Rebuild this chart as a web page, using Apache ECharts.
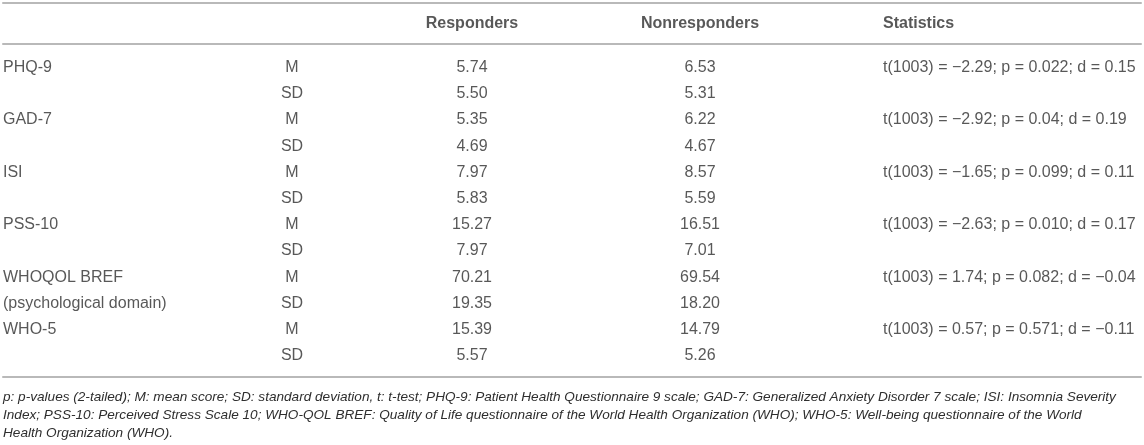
<!DOCTYPE html>
<html>
<head>
<meta charset="utf-8">
<script src="https://cdn.jsdelivr.net/npm/echarts@6/dist/echarts.min.js"></script>
<style>
html, body { margin: 0; padding: 0; background: #fff; }
#chart { width: 1144px; height: 445px; }
</style>
</head>
<body>
<div id="chart"></div>
<script>
var measures = ['PHQ-9', '', 'GAD-7', '', 'ISI', '', 'PSS-10', '', 'WHOQOL BREF', '(psychological domain)', 'WHO-5', ''];
var scoreTypes = ['M', 'SD', 'M', 'SD', 'M', 'SD', 'M', 'SD', 'M', 'SD', 'M', 'SD'];
var responders = [5.74, 5.50, 5.35, 4.69, 7.97, 5.83, 15.27, 7.97, 70.21, 19.35, 15.39, 5.57];
var nonresponders = [6.53, 5.31, 6.22, 4.67, 8.57, 5.59, 16.51, 7.01, 69.54, 18.20, 14.79, 5.26];
var statistics = [
    't(1003) = \u22122.29; p = 0.022; d = 0.15', '',
    't(1003) = \u22122.92; p = 0.04; d = 0.19', '',
    't(1003) = \u22121.65; p = 0.099; d = 0.11', '',
    't(1003) = \u22122.63; p = 0.010; d = 0.17', '',
    't(1003) = 1.74; p = 0.082; d = \u22120.04', '',
    't(1003) = 0.57; p = 0.571; d = \u22120.11', ''
];
var headers = ['', '', 'Responders', 'Nonresponders', 'Statistics'];
var footnote = [
    'p: p-values (2-tailed); M: mean score; SD: standard deviation, t: t-test; PHQ-9: Patient Health Questionnaire 9 scale; GAD-7: Generalized Anxiety Disorder 7 scale; ISI: Insomnia Severity',
    'Index; PSS-10: Perceived Stress Scale 10; WHO-QOL BREF: Quality of Life questionnaire of the World Health Organization (WHO); WHO-5: Well-being questionnaire of the World',
    'Health Organization (WHO).'
];

// column anchors on the x value axis (axis runs 3..1141, same as pixels)
var colX = [3, 292, 472, 700, 883];
var colAlign = ['left', 'center', 'center', 'center', 'left'];

var FONT = 'Liberation Sans, Arial, Helvetica, sans-serif';
var INK = '#2e2e2e';
var RULE = { show: true, lineStyle: { color: '#b9b9b9', width: 2 } };

var myChart = echarts.init(document.getElementById('chart'));

function textSeries(axisIdx, col, texts, bold) {
    return {
        type: 'scatter',
        xAxisIndex: axisIdx === 0 ? 0 : 2,
        yAxisIndex: axisIdx,
        symbolSize: 0,
        silent: true,
        data: texts.map(function (t, i) { return [colX[col], i, t]; }),
        label: {
            show: true,
            position: colAlign[col] === 'left' ? 'right' : 'inside',
            distance: 0,
            formatter: function (p) { return p.value[2]; },
            color: INK,
            fontSize: 16,
            fontFamily: FONT,
            fontWeight: bold ? 'bold' : 'normal'
        }
    };
}

function hiddenX(grid, pos, line, offset) {
    return {
        type: 'value', gridIndex: grid, position: pos, min: 3, max: 1141,
        offset: offset || 0,
        axisLine: line ? RULE : { show: false },
        axisTick: { show: false }, axisLabel: { show: false }, splitLine: { show: false }
    };
}

function rowY(grid, cats) {
    return {
        type: 'category', gridIndex: grid, data: cats, inverse: true,
        axisLine: { show: false }, axisTick: { show: false },
        axisLabel: { show: false }, splitLine: { show: false }
    };
}

var rowIds = measures.map(function (m, i) { return String(i); });

var series = [];
headers.forEach(function (h, c) {
    if (h) series.push(textSeries(0, c, [h], true));
});
series.push(textSeries(1, 0, measures, false));
series.push(textSeries(1, 1, scoreTypes, false));
series.push(textSeries(1, 2, responders.map(function (v) { return v.toFixed(2); }), false));
series.push(textSeries(1, 3, nonresponders.map(function (v) { return v.toFixed(2); }), false));
series.push(textSeries(1, 4, statistics, false));

var option = {
    animation: false,
    backgroundColor: '#fff',
    title: {
        text: footnote.join('\n'),
        left: 3,
        top: 388,
        padding: 0,
        textStyle: {
            fontFamily: FONT,
            fontSize: 13.6,
            fontStyle: 'italic',
            fontWeight: 'normal',
            color: INK,
            lineHeight: 18
        }
    },
    grid: [
        { left: 3, width: 1138, top: 3, height: 41, outerBoundsMode: 'none' },
        { left: 3, width: 1138, top: 54.5, height: 314.4, outerBoundsMode: 'none' }
    ],
    xAxis: [
        hiddenX(0, 'top', true),
        hiddenX(0, 'bottom', true),
        hiddenX(1, 'bottom', true, 8)
    ],
    yAxis: [
        rowY(0, ['header']),
        rowY(1, rowIds)
    ],
    series: series
};
myChart.setOption(option);
window.onresize = myChart.resize;
</script>
</body>
</html>
